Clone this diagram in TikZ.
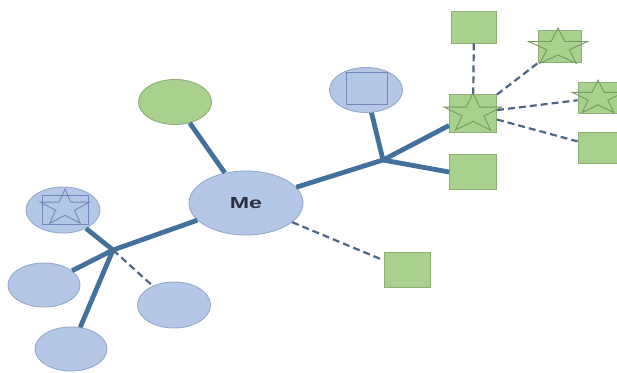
\documentclass[tikz,border=0pt]{standalone}
\usepackage{fontspec}
\setmainfont{Liberation Sans}
\usetikzlibrary{shapes.geometric}

\definecolor{bluefill}{HTML}{B4C7E7}
\definecolor{blueedge}{HTML}{94A9CC}
\definecolor{greenfill}{HTML}{A9D18E}
\definecolor{greenedge}{HTML}{8EAD78}
\definecolor{link}{HTML}{44709E}
\definecolor{dashlink}{HTML}{4D6685}
\definecolor{innerblue}{HTML}{7189BA}
\definecolor{innergreen}{HTML}{739A5E}

\tikzset{
  bubble/.style={ellipse, draw=blueedge, fill=bluefill, line width=0.9pt,
    inner sep=0pt, minimum width=72pt, minimum height=46pt},
  greenbubble/.style={bubble, draw=greenedge, fill=greenfill},
  tile/.style={rectangle, draw=greenedge, fill=greenfill, line width=0.9pt,
    inner sep=0pt, minimum width=46pt, minimum height=35pt},
  strong/.style={draw=link, line width=4.8pt},
  weak/.style={draw=dashlink, line width=2.2pt, dash pattern=on 7pt off 4pt},
  starmark/.pic={
    \draw[line width=0.9pt, pic actions]
      (-90:1) -- (-54:0.382) -- (-18:1) -- (18:0.382) -- (54:1) -- (90:0.382)
      -- (126:1) -- (162:0.382) -- (198:1) -- (234:0.382) -- cycle;
  }
}

\begin{document}
\begin{tikzpicture}[x=1pt, y=-1pt]
  \useasboundingbox (0,0) rectangle (617,372);

  % central person
  \node[bubble, minimum width=114pt, minimum height=64pt] (me) at (246,203)
    {\scalebox{1.45}[1]{\fontsize{16}{18}\selectfont\bfseries\color[HTML]{2B2F3F}Me}};

  % upper branch
  \node[greenbubble, minimum width=73pt, minimum height=45pt] (top) at (175,102) {};

  % right branch
  \coordinate (hubR) at (383,160);
  \node[bubble, minimum width=73pt, minimum height=45pt] (boxed) at (366,90) {};
  \node[draw=innerblue, line width=0.8pt, minimum width=41pt, minimum height=32pt,
        inner sep=0pt] (boxedsq) at (367,88) {};
  \node[tile, minimum width=47pt, minimum height=38pt] (core) at (473,113) {};
  \pic[draw=innergreen, xscale=30, yscale=20.5] at (473,113.5) {starmark};
  \node[tile, minimum width=47pt, minimum height=35pt] (low) at (473,172) {};

  % cluster around the starred tile
  \node[tile, minimum width=45pt, minimum height=32pt] (t1) at (474,27) {};
  \node[tile, minimum width=43pt, minimum height=32pt] (t2) at (560,46) {};
  \pic[draw=innergreen, xscale=31, yscale=19.5] at (558,47.5) {starmark};
  \node[tile, minimum width=44pt, minimum height=31pt] (t3) at (600,97.5) {};
  \pic[draw=innergreen, xscale=27, yscale=18] at (598,98) {starmark};
  \node[tile, minimum width=44pt, minimum height=31pt] (t4) at (600,147.5) {};

  % loose tile below
  \node[tile, minimum width=46pt, minimum height=35pt] (far) at (407,270) {};

  % left branch
  \coordinate (hubL) at (113,250);
  \node[bubble, minimum width=74pt, minimum height=46pt] (starred) at (63,210) {};
  \node[draw=innerblue, line width=0.8pt, minimum width=46pt, minimum height=29pt,
        inner sep=0pt] (starredsq) at (65,209.5) {};
  \pic[draw=innerblue, xscale=26, yscale=19] at (65,208) {starmark};
  \node[bubble, minimum width=72pt, minimum height=44pt] (left) at (44,285) {};
  \node[bubble, minimum width=72pt, minimum height=44pt] (bottom) at (71,349) {};
  \node[bubble, minimum width=73pt, minimum height=46pt] (side) at (174,305) {};

  % strong ties
  \draw[strong] (me) -- (top);
  \draw[strong] (me) -- (hubR);
  \draw[strong] (hubR) -- (boxed);
  \draw[strong] (hubR) -- (core);
  \draw[strong] (hubR) -- (low.west);
  \draw[strong] (me) -- (hubL);
  \draw[strong] (hubL) -- (starred);
  \draw[strong] (hubL) -- (left);
  \draw[strong] (hubL) -- (bottom);

  % weak ties
  \draw[weak] (me) -- (far);
  \draw[weak] (hubL) -- (side);
  \draw[weak] (t1) -- (core);
  \draw[weak] (core) -- (t2);
  \draw[weak] (core) -- (t3);
  \draw[weak] (core) -- (t4);
\end{tikzpicture}
\end{document}
